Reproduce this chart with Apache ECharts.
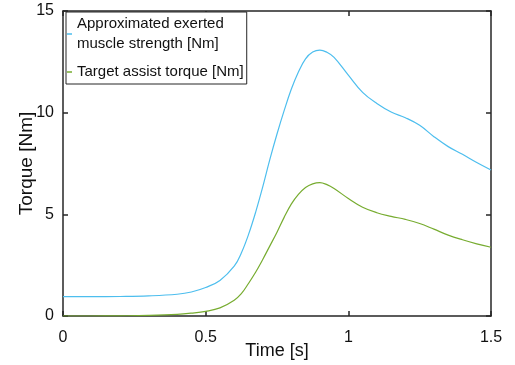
<!DOCTYPE html>
<html>
<head>
<meta charset="utf-8">
<script src="https://cdn.jsdelivr.net/npm/echarts@6/dist/echarts.min.js"></script>
<style>
  html, body { margin: 0; padding: 0; background: #fff; }
  #chart { width: 515px; height: 365px; }
</style>
</head>
<body>
<div id="chart"></div>
<script>
// time axis [s]
const timeS = [0, 0.1, 0.2, 0.3, 0.4, 0.45, 0.5, 0.55, 0.6, 0.625, 0.65, 0.675, 0.7, 0.725,
  0.75, 0.775, 0.8, 0.825, 0.85, 0.875, 0.9, 0.925, 0.95, 1.0, 1.05, 1.1, 1.15, 1.2, 1.25,
  1.3, 1.35, 1.4, 1.45, 1.5];
// approximated exerted muscle strength [Nm]
const strengthNm = [0.95, 0.95, 0.96, 0.99, 1.07, 1.18, 1.4, 1.75, 2.45, 3.1, 4.0, 5.1, 6.35, 7.7,
  8.95, 10.1, 11.15, 12.0, 12.65, 12.98, 13.08, 12.97, 12.72, 11.85, 11.0, 10.45, 10.03, 9.75, 9.38,
  8.82, 8.33, 7.95, 7.55, 7.18];
// target assist torque [Nm]
const assistNm = [0.0, 0.0, 0.01, 0.03, 0.08, 0.14, 0.23, 0.4, 0.78, 1.1, 1.6, 2.15, 2.78, 3.45,
  4.12, 4.85, 5.5, 5.98, 6.32, 6.5, 6.56, 6.46, 6.27, 5.78, 5.35, 5.08, 4.9, 4.75, 4.55,
  4.27, 3.98, 3.75, 3.55, 3.38];

const xTicks = { min: 0, max: 1.5, interval: 0.5 };
const yTicks = { min: 0, max: 15, interval: 5 };

const seriesNames = ['Approximated exerted\nmuscle strength [Nm]', 'Target assist torque [Nm]'];

const axisColor = '#262626';
const font = 'Liberation Sans, Arial, Helvetica, sans-serif';

const pairs = (ys) => timeS.map((t, i) => [t, ys[i]]);

const baseAxis = {
  axisLine: { show: true, onZero: false, lineStyle: { color: axisColor, width: 1.5 } },
  axisTick: { show: true, inside: true, length: 5, lineStyle: { color: axisColor, width: 1.5 } },
  splitLine: { show: false }
};

const chart = echarts.init(document.getElementById('chart'), null, { renderer: 'canvas' });

chart.setOption({
  animation: false,
  backgroundColor: '#fff',
  textStyle: { fontFamily: font },
  grid: { left: 63, right: 24, top: 11, bottom: 49, containLabel: false, outerBoundsMode: 'none' },
  legend: {
    orient: 'vertical',
    left: 66,
    top: 12,
    padding: [2, 3, 2, 1],
    itemGap: 8,
    itemWidth: 5,
    itemHeight: 1.5,
    icon: 'rect',
    borderColor: axisColor,
    borderWidth: 1,
    backgroundColor: '#fff',
    textStyle: { fontFamily: font, fontSize: 15, color: '#111', lineHeight: 20 },
    data: seriesNames
  },
  xAxis: [
    {
      ...baseAxis,
      type: 'value',
      position: 'bottom',
      ...xTicks,
      name: 'Time [s]',
      nameLocation: 'middle',
      nameGap: 26,
      nameMoveOverlap: false,
      nameTextStyle: { fontFamily: font, fontSize: 18, color: '#111' },
      axisLabel: { fontFamily: font, fontSize: 16, color: '#111', margin: 14 }
    },
    {
      ...baseAxis,
      type: 'value',
      position: 'top',
      ...xTicks,
      axisLabel: { show: false }
    }
  ],
  yAxis: [
    {
      ...baseAxis,
      type: 'value',
      position: 'left',
      ...yTicks,
      name: 'Torque [Nm]',
      nameLocation: 'middle',
      nameGap: 27,
      nameMoveOverlap: false,
      nameTextStyle: { fontFamily: font, fontSize: 19, color: '#111' },
      axisLabel: { fontFamily: font, fontSize: 16, color: '#111', margin: 9 }
    },
    {
      ...baseAxis,
      type: 'value',
      position: 'right',
      ...yTicks,
      axisLabel: { show: false }
    }
  ],
  series: [
    {
      name: seriesNames[0],
      type: 'line',
      data: pairs(strengthNm),
      smooth: 0.4,
      showSymbol: false,
      color: '#4DBEEE',
      lineStyle: { width: 1.2, color: '#4DBEEE' }
    },
    {
      name: seriesNames[1],
      type: 'line',
      data: pairs(assistNm),
      smooth: 0.4,
      showSymbol: false,
      color: '#77AC30',
      lineStyle: { width: 1.2, color: '#77AC30' }
    }
  ]
});
</script>
</body>
</html>
